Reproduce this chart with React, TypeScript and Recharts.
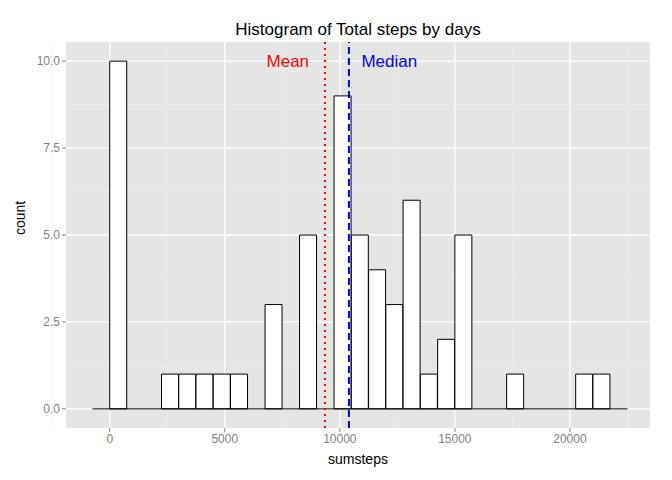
import { ComposedChart, Bar, XAxis, YAxis, CartesianGrid, ReferenceLine, ReferenceDot } from "recharts";

const binStarts = [-750, 0, 750, 1500, 2250, 3000, 3750, 4500, 5250, 6000, 6750, 7500, 8250, 9000, 9750, 10500, 11250, 12000, 12750, 13500, 14250, 15000, 15750, 16500, 17250, 18000, 18750, 19500, 20250, 21000, 21750];
const counts = [0, 10, 0, 0, 1, 1, 1, 1, 1, 0, 3, 0, 5, 0, 9, 5, 4, 3, 6, 1, 2, 5, 0, 0, 1, 0, 0, 0, 1, 1, 0];
const binWidth = 750;
const meanSteps = 9354;
const medianSteps = 10395;
const xTicks = [0, 5000, 10000, 15000, 20000];
const xMinor = [-2500, 2500, 7500, 12500, 17500, 22500];
const yTicks = [0, 2.5, 5, 7.5, 10];
const yMinor = [1.25, 3.75, 6.25, 8.75];

const data = binStarts.map((s, i) => ({ mid: s + binWidth / 2, count: counts[i] }));

const font = "'Liberation Sans', Arial, sans-serif";
const tickStyle = { fill: "#7f7f7f", fontSize: 12, fontFamily: font };

export default function App() {
  return (
    <div style={{ position: "absolute", left: 0, top: 0, width: 672, height: 480, background: "#fff", fontFamily: font }}>
      <div style={{ position: "absolute", top: 20, left: 66, width: 584, textAlign: "center", fontSize: 17 }}>
        Histogram of Total steps by days
      </div>
      <ComposedChart width={672} height={480} data={data} margin={{ top: 42, right: 22, bottom: 12, left: 0 }} barCategoryGap={0}>
        <CartesianGrid fill="#e5e5e5" stroke="#f2f2f2" strokeWidth={0.6} horizontalValues={yMinor} verticalValues={xMinor} />
        <CartesianGrid fill="none" stroke="#ffffff" strokeWidth={1.3} horizontalValues={yTicks} verticalValues={xTicks} />
        <XAxis
          dataKey="mid"
          type="number"
          domain={[-1900, 23480]}
          ticks={xTicks}
          allowDataOverflow
          height={40}
          tick={tickStyle}
          tickLine={{ stroke: "#7f7f7f" }}
          tickSize={4}
          axisLine={false}
          label={{ value: "sumsteps", position: "insideBottom", offset: 4, fill: "#000", fontSize: 14, fontFamily: font }}
        />
        <YAxis
          type="number"
          domain={[-0.55, 10.55]}
          ticks={yTicks}
          allowDataOverflow
          width={66}
          tickFormatter={(v: number) => v.toFixed(1)}
          tick={tickStyle}
          tickLine={{ stroke: "#7f7f7f" }}
          tickSize={4}
          axisLine={false}
          label={{ value: "count", angle: -90, position: "insideLeft", offset: 20, fill: "#000", fontSize: 14, fontFamily: font }}
        />
        <Bar dataKey="count" fill="#ffffff" stroke="#000000" strokeWidth={1} isAnimationActive={false} />
        <ReferenceLine segment={[{ x: -750, y: 0 }, { x: 22500, y: 0 }]} stroke="#000" strokeWidth={1} />
        <ReferenceLine x={meanSteps} stroke="red" strokeWidth={2} strokeDasharray="2 4" />
        <ReferenceLine x={medianSteps} stroke="blue" strokeWidth={2} strokeDasharray="7 4" />
        <ReferenceDot x={7740} y={10} r={0} fill="none" stroke="none" label={{ value: "Mean", position: "center", fill: "red", fontSize: 17, fontFamily: font }} />
        <ReferenceDot x={12150} y={10} r={0} fill="none" stroke="none" label={{ value: "Median", position: "center", fill: "blue", fontSize: 17, fontFamily: font }} />
      </ComposedChart>
    </div>
  );
}
